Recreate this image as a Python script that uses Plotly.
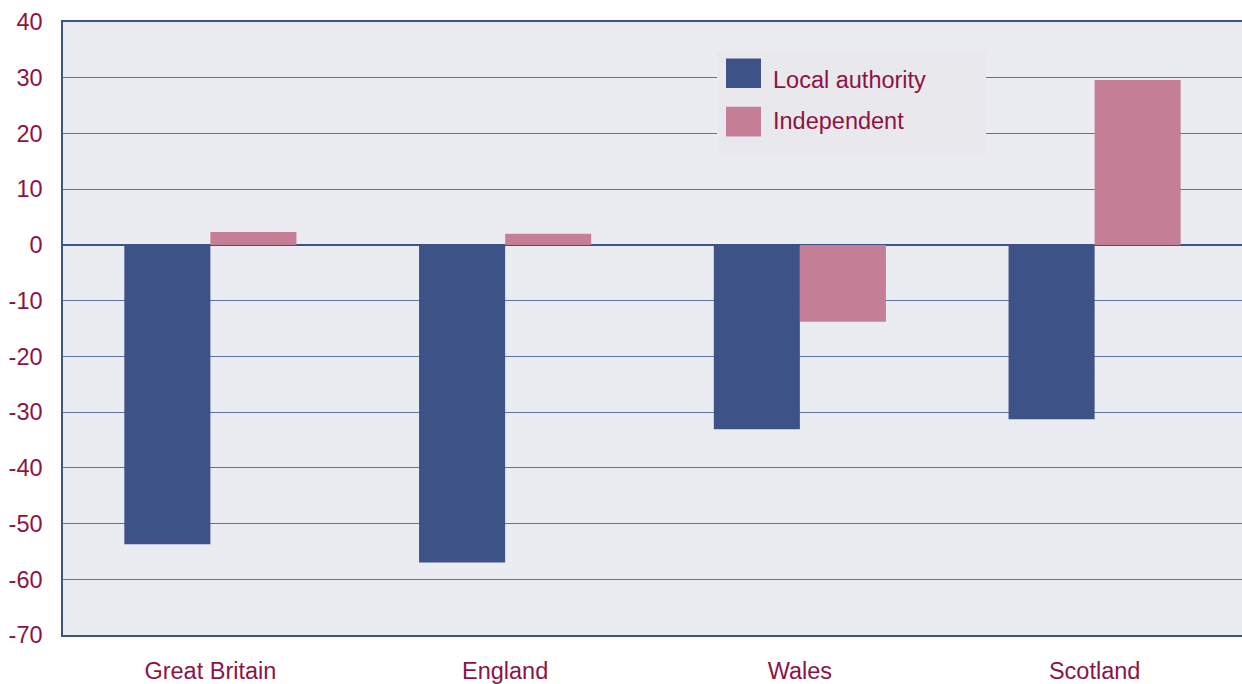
import plotly.graph_objects as go

categories = ["Great Britain", "England", "Wales", "Scotland"]
local_authority = [-53.7, -57.0, -33.1, -31.3]
independent = [2.3, 2.0, -13.8, 29.6]
series_names = ["Local authority", "Independent"]
y_ticks = list(range(-70, 41, 10))
y_tick_labels = [str(v) for v in y_ticks]

LA_COLOR = "#3D5286"
IND_COLOR = "#C47F96"
TEXT_COLOR = "#8E1343"
FONT = "Liberation Sans, Arial, Helvetica, sans-serif"
FS = 23.5

fig = go.Figure()
fig.add_trace(go.Bar(x=categories, y=local_authority, name=series_names[0],
                     marker=dict(color=LA_COLOR, line=dict(width=0)), showlegend=False))
fig.add_trace(go.Bar(x=categories, y=independent, name=series_names[1],
                     marker=dict(color=IND_COLOR, line=dict(width=0)), showlegend=False))

# Legend (drawn manually to get the large swatches); positions relative to plot area
def px_x(p):
    return (p - 63) / 1179.0

def px_y(p):
    return (643.5 - p) / 621.5

shapes = [
    dict(type="rect", xref="paper", yref="paper", x0=px_x(717), x1=px_x(986),
         y0=px_y(155), y1=px_y(52), fillcolor="#E9E8ED", line=dict(width=0), layer="above"),
    dict(type="rect", xref="paper", yref="paper", x0=px_x(726), x1=px_x(761),
         y0=px_y(89), y1=px_y(59), fillcolor=LA_COLOR, line=dict(width=0), layer="above"),
    dict(type="rect", xref="paper", yref="paper", x0=px_x(726), x1=px_x(761),
         y0=px_y(138), y1=px_y(108), fillcolor=IND_COLOR, line=dict(width=0), layer="above"),
]
annotations = [
    dict(xref="paper", yref="paper", x=px_x(771), y=px_y(81), text=series_names[0],
         showarrow=False, xanchor="left", yanchor="middle",
         font=dict(family=FONT, size=FS, color=TEXT_COLOR)),
    dict(xref="paper", yref="paper", x=px_x(771), y=px_y(122), text=series_names[1],
         showarrow=False, xanchor="left", yanchor="middle",
         font=dict(family=FONT, size=FS, color=TEXT_COLOR)),
]

fig.update_layout(
    width=1242, height=684,
    margin=dict(l=63, r=0, t=22, b=40.5),
    paper_bgcolor="white",
    plot_bgcolor="#EBECF2",
    barmode="group",
    bargap=0.416,
    bargroupgap=0,
    shapes=shapes,
    annotations=annotations,
    font=dict(family=FONT, size=FS, color=TEXT_COLOR),
)
fig.update_xaxes(
    showgrid=False, showline=True, linecolor=LA_COLOR, linewidth=1.5,
    mirror=True, ticks="", ticklabelstandoff=14,
    tickfont=dict(family=FONT, size=FS, color=TEXT_COLOR),
)
fig.update_yaxes(
    range=[-70, 40], tickvals=y_ticks, ticktext=y_tick_labels,
    showgrid=True, gridcolor="#5F72A3", gridwidth=1,
    zeroline=True, zerolinecolor=LA_COLOR, zerolinewidth=2,
    showline=True, linecolor=LA_COLOR, linewidth=1.5, mirror=False,
    ticks="", ticklabelstandoff=14,
    tickfont=dict(family=FONT, size=FS, color=TEXT_COLOR),
)

fig.write_html(
    "out.html",
    config={"displayModeBar": False},
    post_script="document.body.style.margin='0';document.body.style.overflow='hidden';",
)
